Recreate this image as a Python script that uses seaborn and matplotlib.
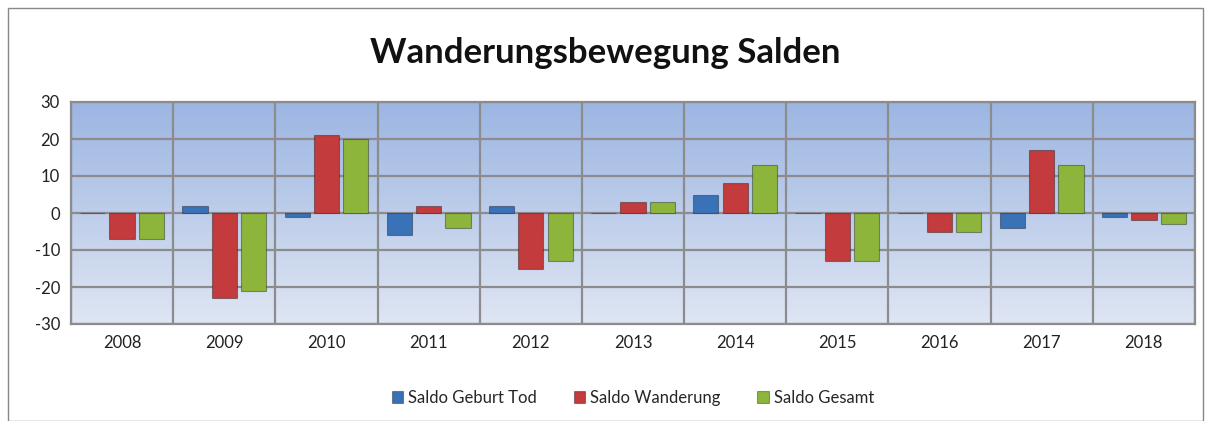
import numpy as np
import pandas as pd
import seaborn as sns
import matplotlib.pyplot as plt
from matplotlib.colors import LinearSegmentedColormap
from matplotlib.patches import Rectangle

# values
years = ['2008', '2009', '2010', '2011', '2012', '2013', '2014', '2015', '2016', '2017', '2018']
saldo_geburt_tod = [0, 2, -1, -6, 2, 0, 5, 0, 0, -4, -1]
saldo_wanderung = [-7, -23, 21, 2, -15, 3, 8, -13, -5, 17, -2]
saldo_gesamt = [-7, -21, 20, -4, -13, 3, 13, -13, -5, 13, -3]
series_names = ['Saldo Geburt Tod', 'Saldo Wanderung', 'Saldo Gesamt']
colors = ['#3a72b8', '#c33b3d', '#8db53c']

df = pd.DataFrame({
    'Jahr': years * 3,
    'Wert': saldo_geburt_tod + saldo_wanderung + saldo_gesamt,
    'Serie': [s for s in series_names for _ in years],
})

sns.set_style('white')
plt.rcParams['font.family'] = ['Lato', 'DejaVu Sans']
plt.rcParams['axes.unicode_minus'] = False

fig = plt.figure(figsize=(12.11, 4.21), dpi=100)
ax = fig.add_axes([71 / 1211, 1 - 324 / 421, (1195 - 71) / 1211, (324 - 102) / 421])

# gradient plot background
grad = LinearSegmentedColormap.from_list('bg', ['#dfe6f3', '#9cb5e2'])
ax.imshow(np.linspace(0, 1, 256).reshape(-1, 1), cmap=grad, aspect='auto',
          extent=[-0.5, len(years) - 0.5, -30, 30], origin='lower', zorder=0)

sns.barplot(data=df, x='Jahr', y='Wert', hue='Serie', palette=colors, saturation=1,
            width=0.86, gap=0.14, edgecolor='none', ax=ax, zorder=3, legend=True)
for patch in ax.patches:
    patch.set_edgecolor((0, 0, 0, 0.35))
    patch.set_linewidth(0.8)

ax.set_xlim(-0.5, len(years) - 0.5)
ax.set_ylim(-30, 30)
ax.set_yticks(range(-30, 31, 10))
ax.set_xticks(np.arange(-0.5, len(years), 1), minor=True)
ax.grid(True, which='major', axis='y', color='#8c8c8c', linewidth=1.6, zorder=1)
ax.grid(True, which='minor', axis='x', color='#8c8c8c', linewidth=1.6, zorder=1)
ax.grid(False, which='major', axis='x')
ax.set_axisbelow(True)
ax.tick_params(axis='both', which='both', length=0, labelsize=12, colors='#222222', pad=8)
ax.set_xlabel('')
ax.set_ylabel('')
for s in ax.spines.values():
    s.set_color('#8c8c8c')
    s.set_linewidth(1.6)

ax.legend(loc='upper center', bbox_to_anchor=(0.5, -0.23), ncol=3, frameon=False,
          fontsize=12, handlelength=0.7, handleheight=0.7, columnspacing=2.2,
          handletextpad=0.3)

fig.text(0.5, 1 - 53 / 421, 'Wanderungsbewegung Salden', ha='center', va='center',
         fontsize=25, fontweight='bold', color='#111111')

fig.patches.append(Rectangle((8 / 1211, 0), 1195 / 1211, 1 - 8 / 421, transform=fig.transFigure,
                             fill=False, edgecolor='#888888', linewidth=1))

fig.savefig('out.png', dpi=100)
